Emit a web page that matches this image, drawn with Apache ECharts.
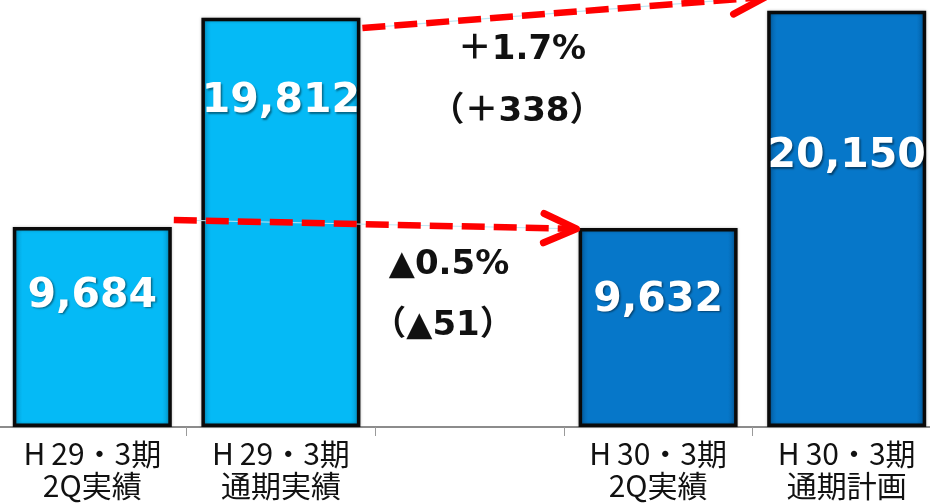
<!DOCTYPE html>
<html><head><meta charset="utf-8">
<script src="https://cdn.jsdelivr.net/npm/echarts@6/dist/echarts.min.js"></script>
<style>html,body{margin:0;padding:0;background:#fff}#c{width:930px;height:503px}</style>
</head><body><div id="c"></div>
<script>
// ---- data ----
const categories = ['H\u200929・3期\n2Q実績', 'H\u200929・3期\n通期実績', '', 'H\u200930・3期\n2Q実績', 'H\u200930・3期\n通期計画'];
const values = [9684, 19812, null, 9632, 20150];
const valueLabels = ['9,684', '19,812', '', '9,632', '20,150'];
// arrows: [fromCategory, fromValue, toCategory, toValue]
const arrows = [[0, 10020, 3, 9590], [1, 19310, 4, 20810]];
const notes = [['＋1.7%', '（＋338）'], ['▲0.5%', '（▲51）']];

// ---- styles ----
const lightBlue = '#05BAF6';
const darkBlue = '#0677C9';
const lightEdge = '#0494C8';
const darkEdge = '#045A9C';
function grad(base, edge) {
  return new echarts.graphic.LinearGradient(0, 0, 1, 0, [
    {offset: 0, color: edge}, {offset: 0.06, color: base},
    {offset: 0.94, color: base}, {offset: 1, color: edge}]);
}
const barColors = [grad(lightBlue, lightEdge), grad(lightBlue, lightEdge), lightBlue, grad(darkBlue, darkEdge), grad(darkBlue, darkEdge)];
const labelOffsets = [69, 84, 0, 72, 146];
const BAR_W = 159;

const chart = echarts.init(document.getElementById('c'), null, {renderer: 'canvas'});

const barData = values.map((v, i) => ({
  value: v,
  itemStyle: {color: barColors[i]},
  label: {position: ['50%', labelOffsets[i]], formatter: valueLabels[i]}
}));

const noteFont = 'bold 34px "DejaVu Sans", "Noto Sans CJK JP"';

chart.setOption({
  animation: false,
  grid: {left: -2, right: -11, top: 0, bottom: 76, containLabel: false, outerBoundsMode: 'none'},
  xAxis: {
    type: 'category', data: categories,
    axisLine: {lineStyle: {color: '#8c8c8c', width: 2}},
    axisTick: {show: true, length: 9, lineStyle: {color: '#9a9a9a', width: 1}},
    axisLabel: {
      color: '#111', fontSize: 30, lineHeight: 32, margin: 11,
      fontFamily: '"Noto Sans CJK JP", sans-serif', interval: 0, hideOverlap: false
    }
  },
  yAxis: {type: 'value', min: 0, max: 20668, show: false, splitLine: {show: false}},
  series: [{
    type: 'bar', data: barData, barWidth: BAR_W, z: 2,
    itemStyle: {borderColor: '#0a0a0a', borderWidth: 3.5,
      shadowColor: 'rgba(0,0,0,0.25)', shadowBlur: 3},
    label: {
      show: true, color: '#fff', fontSize: 41, fontWeight: 'bold',
      fontFamily: '"DejaVu Sans", Verdana, sans-serif',
      align: 'center', verticalAlign: 'middle',
      textShadowColor: 'rgba(0,0,0,0.45)', textShadowBlur: 2, textShadowOffsetX: 1.5, textShadowOffsetY: 1.5
    }
  }, {
    type: 'custom', z: 10, clip: false, silent: true,
    data: arrows,
    renderItem: function (params, api) {
      const half = BAR_W / 2 + 2;
      const p0 = api.coord([api.value(0), api.value(1)]);
      const p1 = api.coord([api.value(2), api.value(3)]);
      const x0 = p0[0] + half, y0 = p0[1];
      const x1 = p1[0] - half, y1 = p1[1];
      const ang = Math.atan2(y1 - y0, x1 - x0);
      const L = 36, A = 24 * Math.PI / 180;
      const a1 = [x1 - L * Math.cos(ang - A), y1 - L * Math.sin(ang - A)];
      const a2 = [x1 - L * Math.cos(ang + A), y1 - L * Math.sin(ang + A)];
      const ex = x1 - 6 * Math.cos(ang), ey = y1 - 6 * Math.sin(ang);
      return {
        type: 'group', children: [
          {type: 'line', shape: {x1: x0, y1: y0, x2: ex, y2: ey},
            style: {stroke: '#bfe6f2', lineWidth: 1.2}},
          {type: 'line', shape: {x1: x0, y1: y0, x2: ex, y2: ey},
            style: {stroke: '#ff0000', lineWidth: 6.5, lineDash: [23, 9]}},
          {type: 'polyline', shape: {points: [a1, [x1, y1], a2]},
            style: {stroke: '#ff0000', lineWidth: 7, lineCap: 'round', lineJoin: 'round', fill: null}}
        ]
      };
    }
  }],
  graphic: [
    {type: 'text', x: 522, y: 50, z: 20, style: {text: notes[0][0], fill: '#111', font: noteFont, textAlign: 'center', textVerticalAlign: 'middle'}},
    {type: 'text', x: 517, y: 112, z: 20, style: {text: notes[0][1], fill: '#111', font: noteFont, textAlign: 'center', textVerticalAlign: 'middle'}},
    {type: 'text', x: 449, y: 265, z: 20, style: {text: notes[1][0], fill: '#111', font: noteFont, textAlign: 'center', textVerticalAlign: 'middle'}},
    {type: 'text', x: 443, y: 326, z: 20, style: {text: notes[1][1], fill: '#111', font: noteFont, textAlign: 'center', textVerticalAlign: 'middle'}}
  ]
});
</script></body></html>
